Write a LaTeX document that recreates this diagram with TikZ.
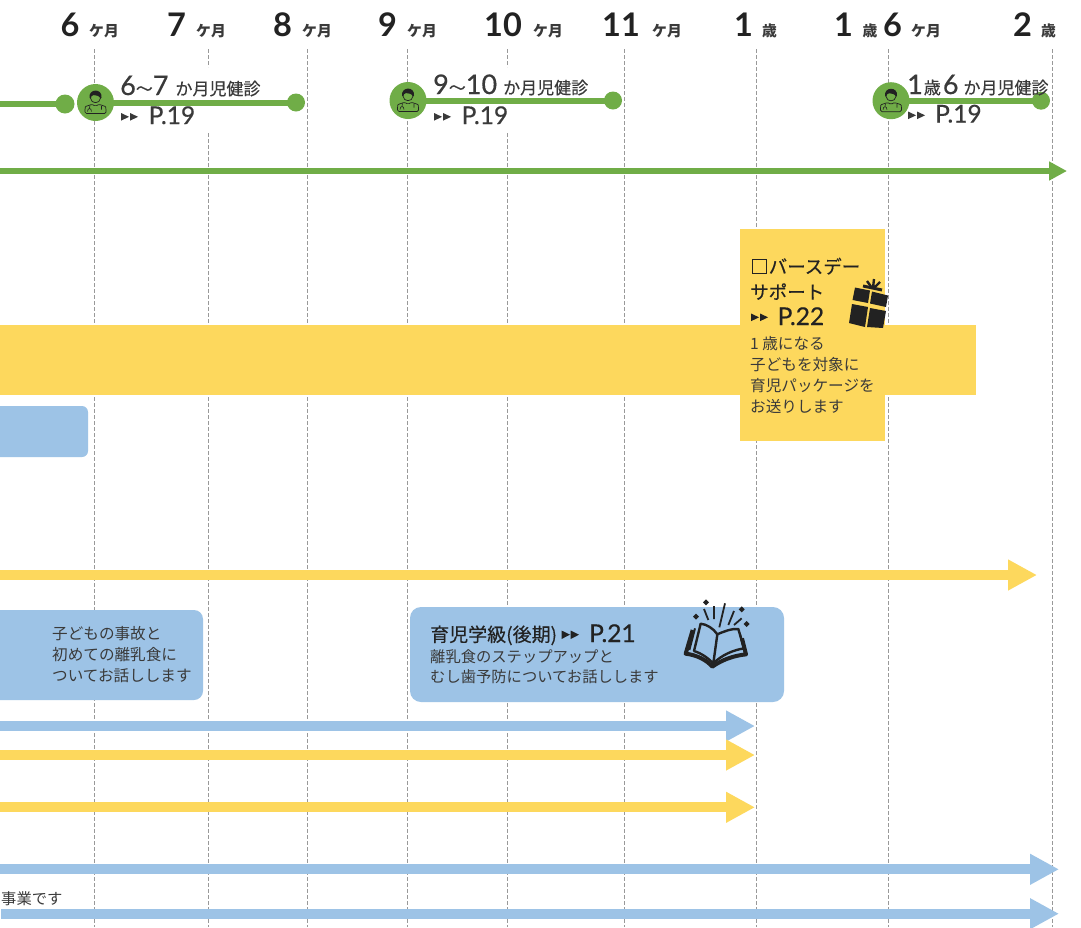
\documentclass[tikz,border=0pt]{standalone}
\usepackage{fontspec}
\setmainfont{Noto Sans CJK JP}
\newfontfamily\medjp[FakeBold=0.35]{Noto Sans CJK JP}
\newfontfamily\numfont{Lato}
\newfontfamily\nummed[FakeBold=0.5]{Lato}
\usetikzlibrary{arrows.meta}
\definecolor{kgreen}{HTML}{70AD47}
\definecolor{kyellow}{HTML}{FDD85D}
\definecolor{kblue}{HTML}{9DC3E6}
\definecolor{kink}{HTML}{3A3A3A}
\definecolor{kblack}{HTML}{222222}
\newcommand{\bignum}[1]{{\nummed\fontsize{27}{27}\selectfont #1}}

\tikzset{
	doctor/.pic={
		\fill[kblack] (-6,-5) .. controls (-7,-14) and (7,-14.5) .. (6,-5) -- (4.8,-3.5) .. controls (4.5,-7) and (1,-7) .. (-2,-7.5) .. controls (-4,-7) and (-4.5,-6) .. (-4.8,-3.5) -- cycle;
		\draw[kblack,line width=.7pt] (-4.8,-4) .. controls (-4.5,1.5) and (4.5,1.5) .. (4.8,-4);
		\draw[kblack,line width=.7pt,rounded corners=1.5pt] (-10.5,11) -- (-10.5,6) .. controls (-10,3.5) and (-6,3) .. (-3.5,1.5) -- (0,4) -- (3.5,1.5) .. controls (6,3) and (10,3.5) .. (10.5,6) -- (10.5,11) -- cycle;
		\draw[kblack,line width=.6pt] (-8,9) .. controls (-8,5) and (-4,5) .. (-4,9) (-6,5.5) -- (-5.5,3) (6,3.5) -- (6,7);
	}
}

\begin{document}
\begin{tikzpicture}[x=1pt,y=-1pt,line cap=butt]
	\tikzstyle{griddash}=[gray!80,line width=.9pt,dash pattern=on 4pt off 2pt];
	\tikzstyle{gline}=[kgreen,line width=6pt];
	\tikzstyle{gdot}=[circle,fill=kgreen,inner sep=0pt,minimum size=18pt];
	\tikzstyle{gbig}=[circle,fill=kgreen,inner sep=0pt,minimum size=37pt];
	\tikzstyle{yarrow}=[kyellow,line width=10pt,-{Triangle[length=29pt,width=29pt]}];
	\tikzstyle{barrow}=[kblue,line width=10pt,-{Triangle[length=29pt,width=29pt]}];
	\tikzstyle{headnum}=[anchor=base west,inner sep=0pt,text=kblack,font=\numfont\bfseries\fontsize{32.5}{32.5}\selectfont];
	\tikzstyle{headunit}=[anchor=base west,inner sep=0pt,text=kink,font=\bfseries\fontsize{14.8}{14.8}\selectfont];
	\tikzstyle{kenshin}=[anchor=base west,inner sep=0pt,text=kink,font=\medjp\fontsize{17}{17}\selectfont];
	\tikzstyle{pageref}=[anchor=base west,inner sep=0pt,text=kink,font=\nummed\fontsize{24.5}{24.5}\selectfont];
	\tikzstyle{body}=[anchor=base west,inner sep=0pt,text=kink,align=left,font=\fontsize{15.6}{20.7}\selectfont];
	\tikzstyle{tri}=[fill=kink];

	\useasboundingbox (0,0) rectangle (1081,927);
	\fill[white] (0,0) rectangle (1081,927);

	% grid
	\foreach \gx in {94,307.5,407.5,624,756,888,1052}
		\draw[griddash] (\gx,49) -- (\gx,927);
	\foreach \gx in {208,507}{
		\draw[griddash] (\gx,49) -- (\gx,67);
		\draw[griddash] (\gx,133) -- (\gx,927);
	}

	% header
	\node[headnum] (h6) at (60.5,36) {6};
	\node[headunit] (u6) at (89,36) {ケ月};
	\node[headnum] (h7) at (167,36) {7};
	\node[headunit] (u7) at (196,36) {ケ月};
	\node[headnum] (h8) at (273,36) {8};
	\node[headunit] (u8) at (302,36) {ケ月};
	\node[headnum] (h9) at (378,36) {9};
	\node[headunit] (u9) at (407,36) {ケ月};
	\node[headnum] (h10) at (484,36) {10};
	\node[headunit] (u10) at (533,36) {ケ月};
	\node[headnum] (h11) at (602,36) {11};
	\node[headunit] (u11) at (652,36) {ケ月};
	\node[headnum] (h12) at (734,36) {1};
	\node[headunit] (u12) at (762,36) {歳};
	\node[headnum] (h18) at (834,36) {1};
	\node[headunit] (u18) at (862.5,36) {歳};
	\node[headnum] (h18b) at (883,36) {6};
	\node[headunit] (u18b) at (911,36) {ケ月};
	\node[headnum] (h24) at (1013,36) {2};
	\node[headunit] (u24) at (1041,36) {歳};

	% checkups
	\coordinate (leftA) at (0,104);
	\node[gdot,minimum size=19pt] (dotA) at (65,104) {};
	\node[gbig] (docA) at (95.5,102.5) {};
	\node[gdot] (endA) at (296,102.5) {};
	\node[gbig] (docB) at (408,100.5) {};
	\node[gdot] (endB) at (613,100.5) {};
	\node[gbig] (docC) at (891,100.7) {};
	\node[gdot] (endC) at (1041,100.7) {};
	\draw[gline] (leftA) -- (dotA.center);
	\draw[gline] (docA.center) -- (endA.center);
	\draw[gline] (docB.center) -- (endB.center);
	\draw[gline] (docC.center) -- (endC.center);
	\pic at (docA) {doctor};
	\pic at (docB) {doctor};
	\pic at (docC) {doctor};

	\node[kenshin] (kenA) at (120,95) {\bignum{6}〜\bignum{7}\hspace{7pt}か月児健診};
	\node[pageref] (refA) at (148.5,124) {P.19};
	\fill[tri] (121,113) -- (129,116.8) -- (121,120.7) -- cycle (130,113) -- (138,116.8) -- (130,120.7) -- cycle;
	\node[kenshin] (kenB) at (433,94) {\bignum{9}〜\bignum{10}\hspace{6pt}か月児健診};
	\node[pageref] (refB) at (461.5,124) {P.19};
	\fill[tri] (434,113) -- (442,116.8) -- (434,120.7) -- cycle (443,113) -- (451,116.8) -- (443,120.7) -- cycle;
	\node[kenshin] (kenC) at (907,94) {\bignum{1}\hspace{1pt}歳\hspace{2pt}\bignum{6}\hspace{5pt}か月児健診};
	\node[pageref] (refC) at (935,122.5) {P.19};
	\fill[tri] (908,111.5) -- (916,115.3) -- (908,119.2) -- cycle (917,111.5) -- (925,115.3) -- (917,119.2) -- cycle;

	% main line
	\coordinate (mainS) at (0,171);
	\coordinate (mainE) at (1067,171);
	\draw[gline,-{Triangle[length=18pt,width=18pt]}] (mainS) -- (mainE);

	% bands
	\fill[kyellow] (0,325) rectangle (976,395);
	\fill[kyellow] (740,229) rectangle (885,441);
	\fill[kblue,rounded corners=6pt] (-20,406) rectangle (88,457);
	\fill[kblue,rounded corners=9pt] (-20,610) rectangle (203,700);
	\fill[kblue,rounded corners=11pt] (410,607) rectangle (784,702);

	% birthday box
	\node[anchor=base west,inner sep=0pt,text=kblack,align=left,font=\medjp\fontsize{18.5}{25.5}\selectfont] (bday) at (750,299) {□バースデー\\サポート};
	\node[pageref,text=kblack] (refD) at (777.5,325) {P.22};
	\fill[kblack] (751,313.5) -- (759,317.3) -- (751,321.2) -- cycle (760,313.5) -- (768,317.3) -- (760,321.2) -- cycle;
	\node[body] (bdaytxt) at (750,412) {1 歳になる\\子どもを対象に\\育児パッケージを\\お送りします};

	% gift
	\fill[kblack] (855,287.5) -- (870,290.5) -- (868,303) -- (852.5,300) -- cycle;
	\fill[kblack] (872,291.5) -- (888,295.5) -- (886,307) -- (870,303.5) -- cycle;
	\fill[kblack] (852,304) -- (868,307) -- (865,327) -- (849,323) -- cycle;
	\fill[kblack] (870,308) -- (886,311) -- (883,328) -- (867,327) -- cycle;
	\draw[kblack,line width=3pt] (863,286) -- (882,290);
	\draw[kblack,line width=2.4pt] (872,288) -- (867,281) (873,288) -- (874,279) (874,288) -- (880,282);

	% text in boxes
	\node[body] (jiko) at (52,681) {子どもの事故と\\初めての離乳食に\\ついてお話しします};
	\node[anchor=base west,inner sep=0pt,text=kblack,font=\medjp\fontsize{19}{19}\selectfont] (gakkyu) at (430,641.5) {育児学級(後期)};
	\fill[kblack] (561.5,630.5) -- (570,634.7) -- (561.5,639) -- cycle (570.7,630.5) -- (579,634.7) -- (570.7,639) -- cycle;
	\node[pageref,text=kblack] (refE) at (589,642) {P.21};
	\node[body,font=\fontsize{15.3}{20.3}\selectfont] (rinyu) at (430,682.5) {離乳食のステップアップと\\むし歯予防についてお話しします};

	% book
	\begin{scope}[shift={(680,595)},xscale=1/3,yscale=1/3]
		\draw[kblack,line width=2.4pt,line join=round] (62,86) .. controls (80,88) and (100,100) .. (112,118) -- (100,205) .. controls (85,190) and (65,175) .. (42,168) -- cycle;
		\draw[kblack,line width=2.4pt,line join=round] (112,118) .. controls (130,110) and (155,100) .. (175,102) -- (192,160) .. controls (160,165) and (125,180) .. (100,205);
		\draw[kblack,line width=2pt] (45,100) -- (28,165) (180,118) -- (195,170);
		\draw[kblack,line width=4pt,line join=round] (38,105) -- (17,176) .. controls (50,180) and (80,195) .. (97,215) .. controls (125,195) and (160,182) .. (198,178) -- (186,130);
		\draw[kblack,line width=1.8pt] (72,42) -- (85,75) (102,33) -- (102,72) (135,25) -- (118,97) (162,48) -- (145,90) (185,70) -- (162,90);
		\foreach \sx/\sy in {78/22,48/65,185/43,200/87}
			\fill[kblack] (\sx-9,\sy) -- (\sx,\sy-9) -- (\sx+9,\sy) -- (\sx,\sy+9) -- cycle;
	\end{scope}

	% arrows
	\coordinate (ya) at (0,575);
	\coordinate (yb) at (1037,575);
	\coordinate (ba) at (0,726);
	\coordinate (bb) at (755,726);
	\coordinate (yc) at (0,755);
	\coordinate (yd) at (755,755);
	\coordinate (ye) at (0,807.3);
	\coordinate (yf) at (755,807.3);
	\coordinate (bc) at (0,869.3);
	\coordinate (bd) at (1059,869.3);
	\coordinate (be) at (1,913.7);
	\coordinate (bf) at (1059,913.7);
	\draw[yarrow] (ya) -- (yb);
	\draw[barrow] (ba) -- (bb);
	\draw[yarrow] (yc) -- (yd);
	\draw[yarrow] (ye) -- (yf);
	\draw[barrow] (bc) -- (bd);
	\draw[barrow] (be) -- (bf);
	\node[anchor=base west,inner sep=0pt,text=kink,font=\fontsize{15.3}{15.3}\selectfont] (jigyo) at (1,904.5) {事業です};
\end{tikzpicture}
\end{document}
